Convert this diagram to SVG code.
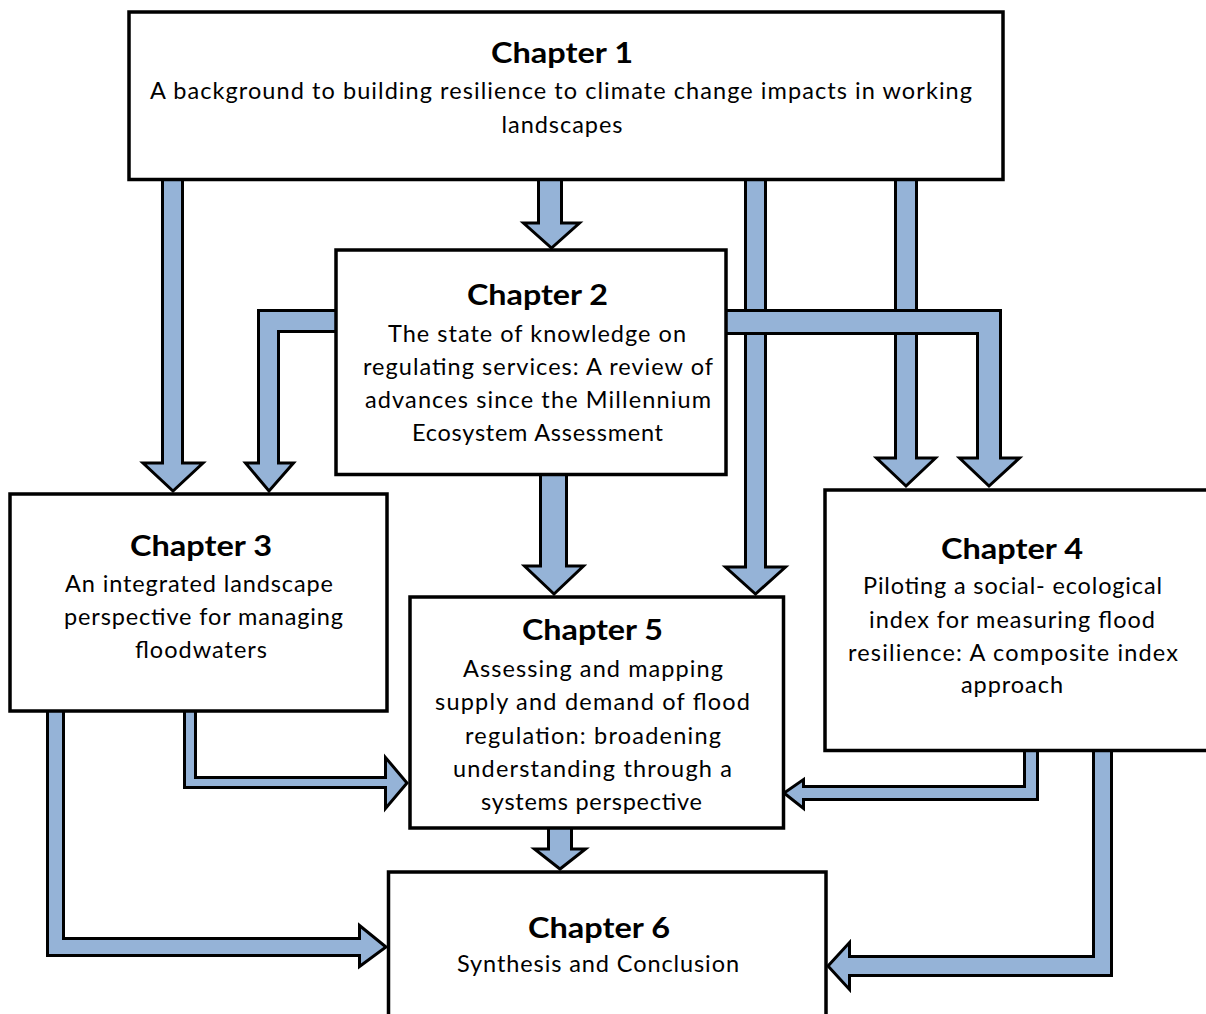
<svg xmlns="http://www.w3.org/2000/svg" width="1206" height="1014" viewBox="0 0 1206 1014">
<style>
.box{fill:#fff;stroke:#000;stroke-width:3.5}
.arr{fill:#95B3D7;stroke:#000;stroke-width:3;stroke-linejoin:miter}
.t{font-family:Lato,"Liberation Sans",sans-serif;font-weight:bold;font-size:29px;fill:#000;text-anchor:middle}
.b{font-family:Lato,"Liberation Sans",sans-serif;font-size:23.5px;fill:#000;text-anchor:middle}
</style>
<rect width="1206" height="1014" fill="#fff"/>
<g id="connectors">
<path class="arr" d="M162.5,178 V463 H143 L173,491 L203,463 H182.5 V178 Z"/>
<path class="arr" d="M538.5,178 V223 H523.5 L551.5,248 L579.5,223 H561.5 V178 Z"/>
<path class="arr" d="M338,310.5 H258.5 V463 H245.5 L269,491 L293.5,463 H278.5 V331.5 H338 Z"/>
<path class="arr" d="M745.5,178 V567 H725.5 L755.5,594 L785.5,567 H765.5 V178 Z"/>
<path class="arr" d="M895.5,178 V458 H876.5 L906,486 L935.5,458 H916.5 V178 Z"/>
<path class="arr" d="M725,310.5 H1000.5 V458 H1019.5 L989,486 L959.5,458 H977.5 V333.5 H725 Z"/>
<path class="arr" d="M540.5,473 V566 H524.5 L554,594 L583.5,566 H566.5 V473 Z"/>
<path class="arr" d="M184.5,709 V787.5 H385.5 V808.5 L407,783 L385.5,757.5 V777.5 H195.5 V709 Z"/>
<path class="arr" d="M47.5,709 V955.5 H359.5 V966.5 L386,947 L359.5,925.5 V938.5 H63.5 V709 Z"/>
<path class="arr" d="M1037.5,748 V799.5 H803.5 V808.5 L784,793 L803.5,779.5 V786.5 H1024.5 V748 Z"/>
<path class="arr" d="M1111.5,748 V975.5 H849.5 V989.5 L828,966 L849.5,942.5 V956.5 H1093.5 V748 Z"/>
<path class="arr" d="M548.5,826 V849 H534.5 L560,869 L585.5,849 H571.5 V826 Z"/>
</g>
<g id="ch1">
<rect class="box" x="129" y="12" width="874" height="167.5"/>
<text class="t" x="562" y="63" textLength="142" lengthAdjust="spacingAndGlyphs">Chapter 1</text>
<text class="b" x="561" y="99" textLength="822" lengthAdjust="spacing">A background to building resilience to climate change impacts in working</text>
<text class="b" x="562" y="133" textLength="121" lengthAdjust="spacing">landscapes</text>
</g>
<g id="ch2">
<rect class="box" x="336" y="250" width="390" height="224.5"/>
<text class="t" x="537.5" y="305" textLength="141" lengthAdjust="spacingAndGlyphs">Chapter 2</text>
<text class="b" x="537" y="342" textLength="298" lengthAdjust="spacing">The state of knowledge on</text>
<text class="b" x="538" y="375" textLength="350" lengthAdjust="spacing">regulating services:  A review of</text>
<text class="b" x="538" y="408" textLength="346" lengthAdjust="spacing">advances since the Millennium</text>
<text class="b" x="537.5" y="441" textLength="251" lengthAdjust="spacing">Ecosystem Assessment</text>
</g>
<g id="ch3">
<rect class="box" x="10" y="494" width="377" height="217"/>
<text class="t" x="201" y="556" textLength="142" lengthAdjust="spacingAndGlyphs">Chapter 3</text>
<text class="b" x="199" y="592" textLength="268" lengthAdjust="spacing">An integrated landscape</text>
<text class="b" x="203.5" y="625" textLength="279" lengthAdjust="spacing">perspective for managing</text>
<text class="b" x="201" y="658" textLength="132" lengthAdjust="spacing">floodwaters</text>
</g>
<g id="ch4">
<rect class="box" x="825" y="490" width="400" height="260.5"/>
<text class="t" x="1012" y="559" textLength="142" lengthAdjust="spacingAndGlyphs">Chapter 4</text>
<text class="b" x="1012.5" y="594" textLength="299" lengthAdjust="spacing">Piloting a social- ecological</text>
<text class="b" x="1012" y="628" textLength="286" lengthAdjust="spacing">index for measuring flood</text>
<text class="b" x="1013" y="661" textLength="330" lengthAdjust="spacing">resilience: A composite index</text>
<text class="b" x="1012" y="693" textLength="102" lengthAdjust="spacing">approach</text>
</g>
<g id="ch5">
<rect class="box" x="410" y="597" width="373.5" height="231"/>
<text class="t" x="592.5" y="640" textLength="141" lengthAdjust="spacingAndGlyphs">Chapter 5</text>
<text class="b" x="593" y="677" textLength="260" lengthAdjust="spacing">Assessing and mapping</text>
<text class="b" x="592.5" y="710" textLength="315" lengthAdjust="spacing">supply and demand of flood</text>
<text class="b" x="593" y="743.5" textLength="256" lengthAdjust="spacing">regulation: broadening</text>
<text class="b" x="592.5" y="777" textLength="279" lengthAdjust="spacing">understanding through a</text>
<text class="b" x="591.5" y="810" textLength="221" lengthAdjust="spacing">systems perspective</text>
</g>
<g id="ch6">
<rect class="box" x="388.5" y="872" width="437.5" height="160"/>
<text class="t" x="599" y="938" textLength="142" lengthAdjust="spacingAndGlyphs">Chapter 6</text>
<text class="b" x="598" y="972" textLength="282" lengthAdjust="spacing">Synthesis and Conclusion</text>
</g>
</svg>
